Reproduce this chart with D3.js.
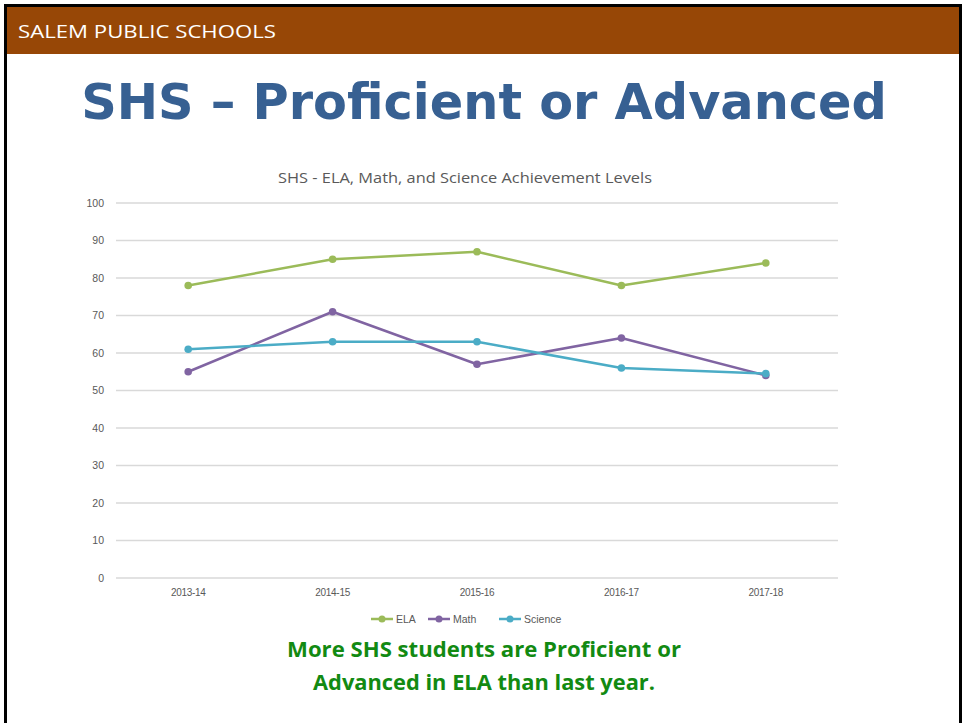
<!DOCTYPE html>
<html><head><meta charset="utf-8">
<script src="https://cdn.jsdelivr.net/npm/d3@7"></script>
<style>body{margin:0;background:#fff}svg{display:block}</style>
</head><body>
<script>
const categories = ["2013-14","2014-15","2015-16","2016-17","2017-18"];
const elaValues = [78, 85, 87, 78, 84];
const mathValues = [55, 71, 57, 64, 54];
const scienceValues = [61, 63, 63, 56, 54.5];
const seriesNames = ["ELA","Math","Science"];
const seriesColors = ["#9BBB59","#8064A2","#4BACC6"];
const yTicks = [0,10,20,30,40,50,60,70,80,90,100];
const series = [elaValues, mathValues, scienceValues];

const W=964,H=723;
const svg=d3.select("body").append("svg").attr("width",W).attr("height",H);
svg.append("rect").attr("width",W).attr("height",H).attr("fill","#fff");
// frame
svg.append("rect").attr("x",5.5).attr("y",5.5).attr("width",955).attr("height",H+10).attr("fill","none").attr("stroke","#000").attr("stroke-width",3);
// header band
svg.append("rect").attr("x",7).attr("y",7).attr("width",952).attr("height",47).attr("fill","#974706");
svg.append("text").attr("x",18).attr("y",38).attr("fill","#fff").attr("font-family","'Open Sans', sans-serif").attr("font-size",18)
  .attr("textLength",258).attr("lengthAdjust","spacingAndGlyphs").text("SALEM PUBLIC SCHOOLS");
// title (font size fitted to the reference width)
const title=svg.append("text").attr("x",484).attr("y",119).attr("text-anchor","middle").attr("fill","#376092")
  .attr("font-family","'DejaVu Sans', sans-serif").attr("font-weight","bold").attr("font-size",58)
  .text("SHS – Proficient or Advanced");
const tl=title.node().getComputedTextLength();
title.attr("font-size",Math.min(64,58*806/tl));

// chart
const x=d3.scaleBand().domain(categories).range([116,838]);
const y=d3.scaleLinear().domain([0,100]).range([578,203]);
const g=svg.append("g");
g.selectAll("line.grid").data(yTicks).join("line").attr("class","grid")
  .attr("x1",116).attr("x2",838).attr("y1",d=>y(d)).attr("y2",d=>y(d))
  .attr("stroke","#D9D9D9").attr("stroke-width",1.5);
const yAxis=d3.axisLeft(y).tickValues(yTicks).tickSize(0).tickPadding(12);
const ya=svg.append("g").attr("transform","translate(116,0)").call(yAxis);
ya.select(".domain").remove();
ya.selectAll("text").attr("fill","#595959").attr("font-family","'Liberation Sans', Arial, sans-serif").attr("font-size",10.5);
const xAxis=d3.axisBottom(x).tickSize(0).tickPadding(11);
const xa=svg.append("g").attr("transform","translate(0,578)").call(xAxis);
xa.select(".domain").remove();
xa.selectAll("text").attr("fill","#595959").attr("font-family","'Liberation Sans', Arial, sans-serif").attr("font-size",10).attr("letter-spacing","-0.3");

svg.append("text").attr("x",465).attr("y",183).attr("text-anchor","middle").attr("fill","#595959")
  .attr("font-family","'Open Sans', sans-serif").attr("font-size",15).attr("textLength",374).attr("lengthAdjust","spacingAndGlyphs").text("SHS - ELA, Math, and Science Achievement Levels");

const line=d3.line().x((d,i)=>x(categories[i])+x.bandwidth()/2).y(d=>y(d));
series.forEach((vals,si)=>{
  svg.append("path").datum(vals).attr("d",line).attr("fill","none").attr("stroke",seriesColors[si]).attr("stroke-width",2.5).attr("stroke-linejoin","round");
  svg.selectAll(null).data(vals).join("circle").attr("cx",(d,i)=>x(categories[i])+x.bandwidth()/2).attr("cy",d=>y(d)).attr("r",3.8).attr("fill",seriesColors[si]);
});

// legend
const legX=[371,428,499];
seriesNames.forEach((n,i)=>{
  const lg=svg.append("g").attr("transform",`translate(${legX[i]},619)`);
  lg.append("line").attr("x1",0).attr("x2",22).attr("stroke",seriesColors[i]).attr("stroke-width",2.5);
  lg.append("circle").attr("cx",11).attr("r",3.5).attr("fill",seriesColors[i]);
  lg.append("text").attr("x",25).attr("y",4).attr("fill","#595959").attr("font-family","'Liberation Sans', Arial, sans-serif").attr("font-size",10.5).text(n);
});

// bottom note
const note=["More SHS students are Proficient or","Advanced in ELA than last year."];
const noteW=[394,342];
note.forEach((t,i)=>{
  svg.append("text").attr("x",484).attr("y",657+i*33).attr("text-anchor","middle").attr("fill","#128A12")
    .attr("font-family","'Open Sans', sans-serif").attr("font-weight","bold").attr("font-size",21)
    .attr("textLength",noteW[i]).attr("lengthAdjust","spacingAndGlyphs").text(t);
});
</script>
</body></html>
